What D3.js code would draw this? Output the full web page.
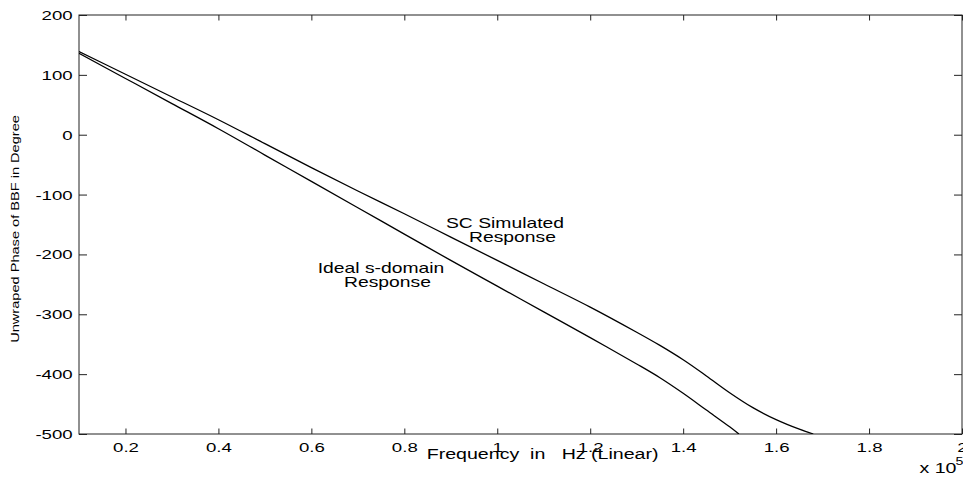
<!DOCTYPE html>
<html>
<head>
<meta charset="utf-8">
<script src="https://cdn.jsdelivr.net/npm/d3@7"></script>
<style>
  html, body { margin: 0; padding: 0; background: #fff; }
  svg { display: block; }
  text { font-family: "Liberation Sans", Arial, Helvetica, sans-serif; fill: #000; white-space: pre; }
</style>
</head>
<body>
<svg id="chart" width="963" height="477"></svg>
<script>
// ---- data (frequency in units of 1e5 Hz, phase in degrees) ----
const scFreq  = [0.1, 0.2, 0.3, 0.4, 0.5, 0.6, 0.7, 0.8, 0.9, 1.0, 1.1, 1.2, 1.3, 1.35, 1.4, 1.45, 1.5, 1.55, 1.6, 1.65, 1.68];
const scPhase = [139, 101, 63, 25, -15, -55, -94, -132, -171, -210, -249, -288, -330, -352, -376, -403, -431, -456, -476, -492, -500];
const idealFreq  = [0.1, 0.2, 0.3, 0.4, 0.5, 0.6, 0.7, 0.8, 0.9, 1.0, 1.1, 1.2, 1.3, 1.35, 1.4, 1.45, 1.5, 1.52];
const idealPhase = [136, 94, 52, 10, -34, -78, -122, -166, -210, -253, -296, -339, -383, -406, -432, -460, -488, -500];
const xTickValues = [0.2, 0.4, 0.6, 0.8, 1.0, 1.2, 1.4, 1.6, 1.8, 2.0];
const xTickLabels = ["0.2", "0.4", "0.6", "0.8", "1", "1.2", "1.4", "1.6", "1.8", "2"];
const yTickValues = [200, 100, 0, -100, -200, -300, -400, -500];
const yTickLabels = ["200", "100", "0", "-100", "-200", "-300", "-400", "-500"];

// ---- layout ----
const svg = d3.select("#chart");
const L = 79, T = 15, R = 962, B = 434;
const x = d3.scaleLinear().domain([0.1, 2]).range([L, R]);
const y = d3.scaleLinear().domain([-500, 200]).range([B, T]);
const SX = 1.48, TF = 12.6;   // tick font stretch / size

svg.append("clipPath").attr("id", "plotclip")
  .append("rect").attr("x", L).attr("y", T).attr("width", R - L).attr("height", B - T);

// axes (inward ticks)
const gx = svg.append("g").attr("transform", `translate(0,${B})`)
  .call(d3.axisBottom(x).tickValues(xTickValues)
    .tickFormat((d, i) => xTickLabels[i]).tickSizeInner(-5.5).tickSizeOuter(0).tickPadding(8.6));
const gxt = svg.append("g").attr("transform", `translate(0,${T})`)
  .call(d3.axisTop(x).tickValues(xTickValues).tickFormat("").tickSizeInner(-5.5).tickSizeOuter(0));
const gy = svg.append("g").attr("transform", `translate(${L},0)`)
  .call(d3.axisLeft(y).tickValues(yTickValues)
    .tickFormat((d, i) => yTickLabels[i]).tickSizeInner(-8).tickSizeOuter(0));
const gyr = svg.append("g").attr("transform", `translate(${R},0)`)
  .call(d3.axisRight(y).tickValues(yTickValues).tickFormat("").tickSizeInner(-8).tickSizeOuter(0));

[gx, gxt, gy, gyr].forEach(g => {
  g.select(".domain").remove();
  g.selectAll(".tick line").attr("stroke", "#222").attr("stroke-width", 1);
  g.attr("font-family", null).attr("font-size", null);
});
gx.selectAll(".tick text")
  .attr("font-size", TF)
  .attr("transform", `scale(${SX},1)`);
gy.selectAll(".tick text")
  .attr("font-size", TF)
  .attr("x", -6.3 / SX)
  .attr("dy", "0.36em")
  .attr("transform", `scale(${SX},1)`);

// frame
svg.append("rect").attr("x", L).attr("y", T).attr("width", R - L).attr("height", B - T)
  .attr("fill", "none").attr("stroke", "#222").attr("stroke-width", 1);

// curves
const line = d3.line().x(d => x(d[0])).y(d => y(d[1])).curve(d3.curveCatmullRom.alpha(0.5));
const plot = svg.append("g").attr("clip-path", "url(#plotclip)");
plot.append("path").datum(scFreq.map((f, i) => [f, scPhase[i]]))
  .attr("d", line).attr("fill", "none").attr("stroke", "#000").attr("stroke-width", 1.3);
plot.append("path").datum(idealFreq.map((f, i) => [f, idealPhase[i]]))
  .attr("d", line).attr("fill", "none").attr("stroke", "#000").attr("stroke-width", 1.3);

// text helper
function label(str, px, py, size, sx, anchor, rot) {
  return svg.append("text")
    .attr("transform", `translate(${px},${py})` + (rot ? ` rotate(${rot})` : "") + ` scale(${sx},1)`)
    .attr("font-size", size)
    .attr("text-anchor", anchor)
    .text(str);
}

// annotations
label("SC Simulated", 505, 227.7, 14.2, 1.36, "middle");
label("Response", 512.5, 241.7, 14.2, 1.36, "middle");
label("Ideal s-domain", 381, 273.3, 14.2, 1.36, "middle");
label("Response", 387.5, 287.3, 14.2, 1.36, "middle");

// axis titles
label("Frequency  in   Hz (Linear)", 426.7, 459.3, 14, 1.4, "start");
label("Unwraped Phase of BBF in Degree", 19.3, 229, 10.7, 1.364, "middle", -90);

// exponent
label("x 10", 919.5, 473.3, 14, 1.4, "start");
label("5", 955.5, 464.5, 10.5, 1.35, "start");
</script>
</body>
</html>
